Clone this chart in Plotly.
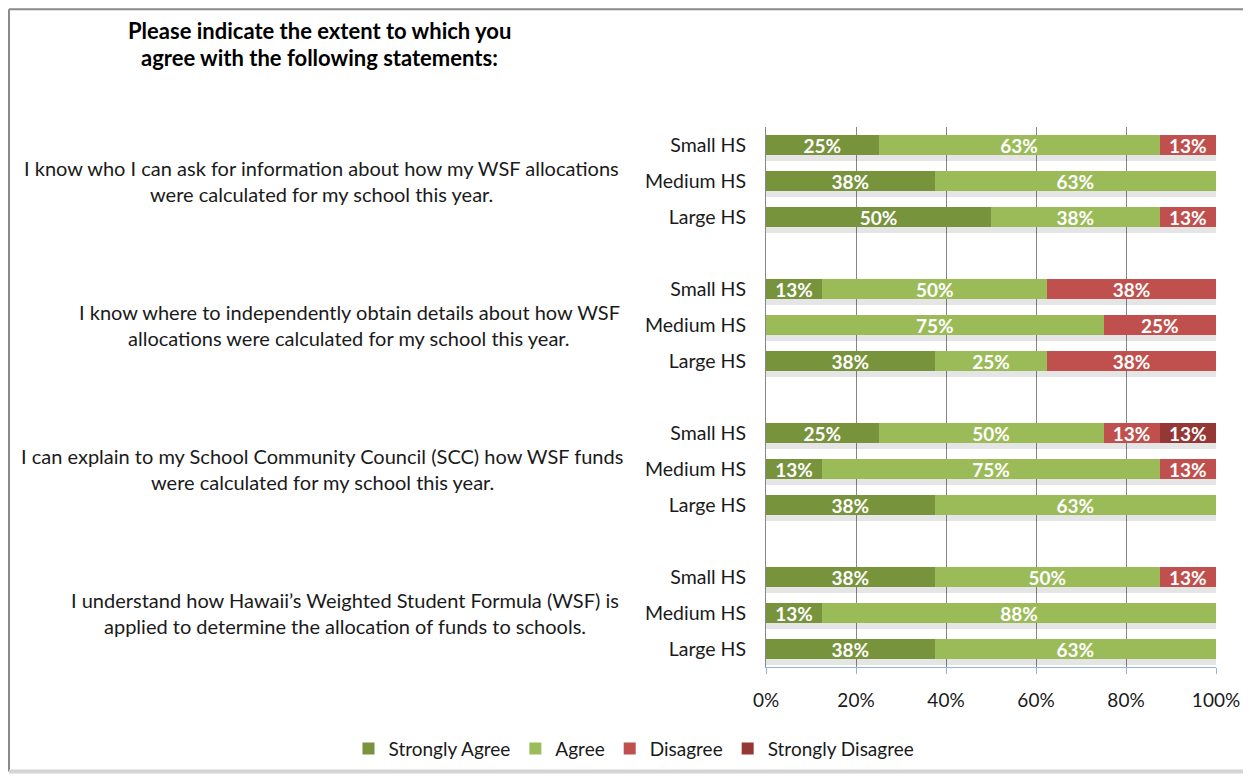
import plotly.graph_objects as go

# survey data: share of respondents (%), n = 8 per school size
statements = [
    ["I know who I can ask for information about how my WSF allocations",
     "were calculated for my school this year."],
    ["I know where to independently obtain details about how WSF",
     "allocations were calculated for my school this year."],
    ["I can explain to my School Community Council (SCC) how WSF funds",
     "were calculated for my school this year."],
    ["I understand how Hawaii\u2019s Weighted Student Formula (WSF) is",
     "applied to determine the allocation of funds to schools."],
]
sizes = ["Small HS", "Medium HS", "Large HS"]
responses = ["Strongly Agree", "Agree", "Disagree", "Strongly Disagree"]

# rows listed top to bottom: Q1 small/medium/large, Q2 ..., Q3 ..., Q4 ...
strongly_agree = [25, 37.5, 50, 12.5, 0, 37.5, 25, 12.5, 37.5, 37.5, 12.5, 37.5]
agree = [62.5, 62.5, 37.5, 50, 75, 25, 50, 75, 62.5, 50, 87.5, 62.5]
disagree = [12.5, 0, 12.5, 37.5, 25, 37.5, 12.5, 12.5, 0, 12.5, 0, 0]
strongly_disagree = [0, 0, 0, 0, 0, 0, 12.5, 0, 0, 0, 0, 0]

tick_vals = [0, 20, 40, 60, 80, 100]
tick_text = ["0%", "20%", "40%", "60%", "80%", "100%"]

colors = ["#77933C", "#9BBB59", "#C0504D", "#953735"]
FONT = "Lato"

# position of each row on the category axis (empty slot between statements)
ypos = [g * 4 + r for g in range(len(statements)) for r in range(len(sizes))]
ylabels = sizes * len(statements)

# the page puts the figure 8px in from the top-left corner
OFF = 8
W, H = 1251 - OFF, 779 - OFF
L, R, T, B = 766 - OFF, 35, 127 - OFF, 109
PW, PH = W - L - R, H - T - B


def px_x(px):
    # screen x (as in the reference) -> paper coordinate
    return (px - OFF - L) / PW


def px_y(py):
    return (H - B - (py - OFF)) / PH


fig = go.Figure()

# soft drop shadow under every bar
totals = [a + b + c + d for a, b, c, d in
          zip(strongly_agree, agree, disagree, strongly_disagree)]
fig.add_trace(go.Bar(
    x=[t + 0.5 for t in totals], y=ypos, orientation="h", yaxis="y",
    width=0.58, offset=-0.29 + 0.15,
    marker=dict(color="rgba(0,0,0,0.10)", line=dict(width=0)),
    showlegend=False, hoverinfo="skip",
))

series = [strongly_agree, agree, disagree, strongly_disagree]
for name, vals, col in zip(responses, series, colors):
    fig.add_trace(go.Bar(
        x=vals, y=ypos, orientation="h", name=name, yaxis="y2",
        width=0.58,
        marker=dict(color=col, line=dict(width=0)),
        text=[f"{int(v + 0.5)}%" if v > 0 else "" for v in vals],
        textposition="inside", insidetextanchor="middle",
        textfont=dict(family=FONT, size=19, color="white", weight="bold"),
        constraintext="none",
        hovertemplate=name + ": %{x}%<extra></extra>",
    ))

fig.update_layout(
    width=W, height=H,
    margin=dict(l=L, r=R, t=T, b=B),
    barmode="stack",
    plot_bgcolor="white", paper_bgcolor="white",
    font=dict(family=FONT, size=19, color="#1a1a1a"),
    xaxis=dict(
        range=[0, 100], tickvals=tick_vals, ticktext=tick_text,
        showgrid=True, gridcolor="#868686", gridwidth=1,
        showline=True, linecolor="#8EB4E3", linewidth=1,
        ticks="outside", ticklen=6, tickcolor="#8EB4E3",
        ticklabelstandoff=10, zeroline=False,
        tickfont=dict(size=19),
    ),
    yaxis=dict(
        range=[14.5, -0.5], tickvals=ypos, ticktext=ylabels,
        showgrid=False, zeroline=False,
        showline=True, linecolor="#868686", linewidth=1,
        ticks="", ticklabelstandoff=15,
        tickfont=dict(size=19.5),
    ),
    yaxis2=dict(range=[14.5, -0.5], overlaying="y", visible=False),
    legend=dict(
        orientation="h", x=px_x(634), y=px_y(752),
        xanchor="center", yanchor="middle",
        font=dict(size=19), traceorder="normal",
    ),
)

# title, two lines
for text, py in [("Please indicate the extent to which you", 30),
                 ("agree with the following statements:", 57)]:
    fig.add_annotation(
        text=f"<b>{text}</b>", xref="paper", yref="paper",
        x=px_x(319), y=px_y(py), xanchor="center", yanchor="middle",
        showarrow=False, font=dict(size=22, color="black"),
    )

# statement labels, centred beside the middle bar of each block
centers = [321, 349, 322, 345]
for g, lines in enumerate(statements):
    mid = g * 4 + 1
    for i, line in enumerate(lines):
        fig.add_annotation(
            text=line, xref="paper", yref="y",
            x=px_x(centers[g]), y=mid + (i - 0.5) * 0.72,
            xanchor="center", yanchor="middle",
            showarrow=False, font=dict(size=20),
        )

# chart-area frame with light shadow on right/bottom
fig.add_shape(type="line", xref="paper", yref="paper",
              x0=px_x(9), x1=px_x(9), y0=px_y(8.5), y1=px_y(775),
              line=dict(color="#8a8a8a", width=2))
fig.add_shape(type="line", xref="paper", yref="paper",
              x0=px_x(9), x1=px_x(1244), y0=px_y(8.5), y1=px_y(8.5),
              line=dict(color="#8a8a8a", width=2))
fig.add_shape(type="line", xref="paper", yref="paper",
              x0=px_x(1246), x1=px_x(1246), y0=px_y(9), y1=px_y(776),
              line=dict(color="#d4d4d4", width=4))
fig.add_shape(type="line", xref="paper", yref="paper",
              x0=px_x(9), x1=px_x(1248), y0=px_y(775), y1=px_y(775),
              line=dict(color="#d4d4d4", width=4))

fig.write_html("out.html")
